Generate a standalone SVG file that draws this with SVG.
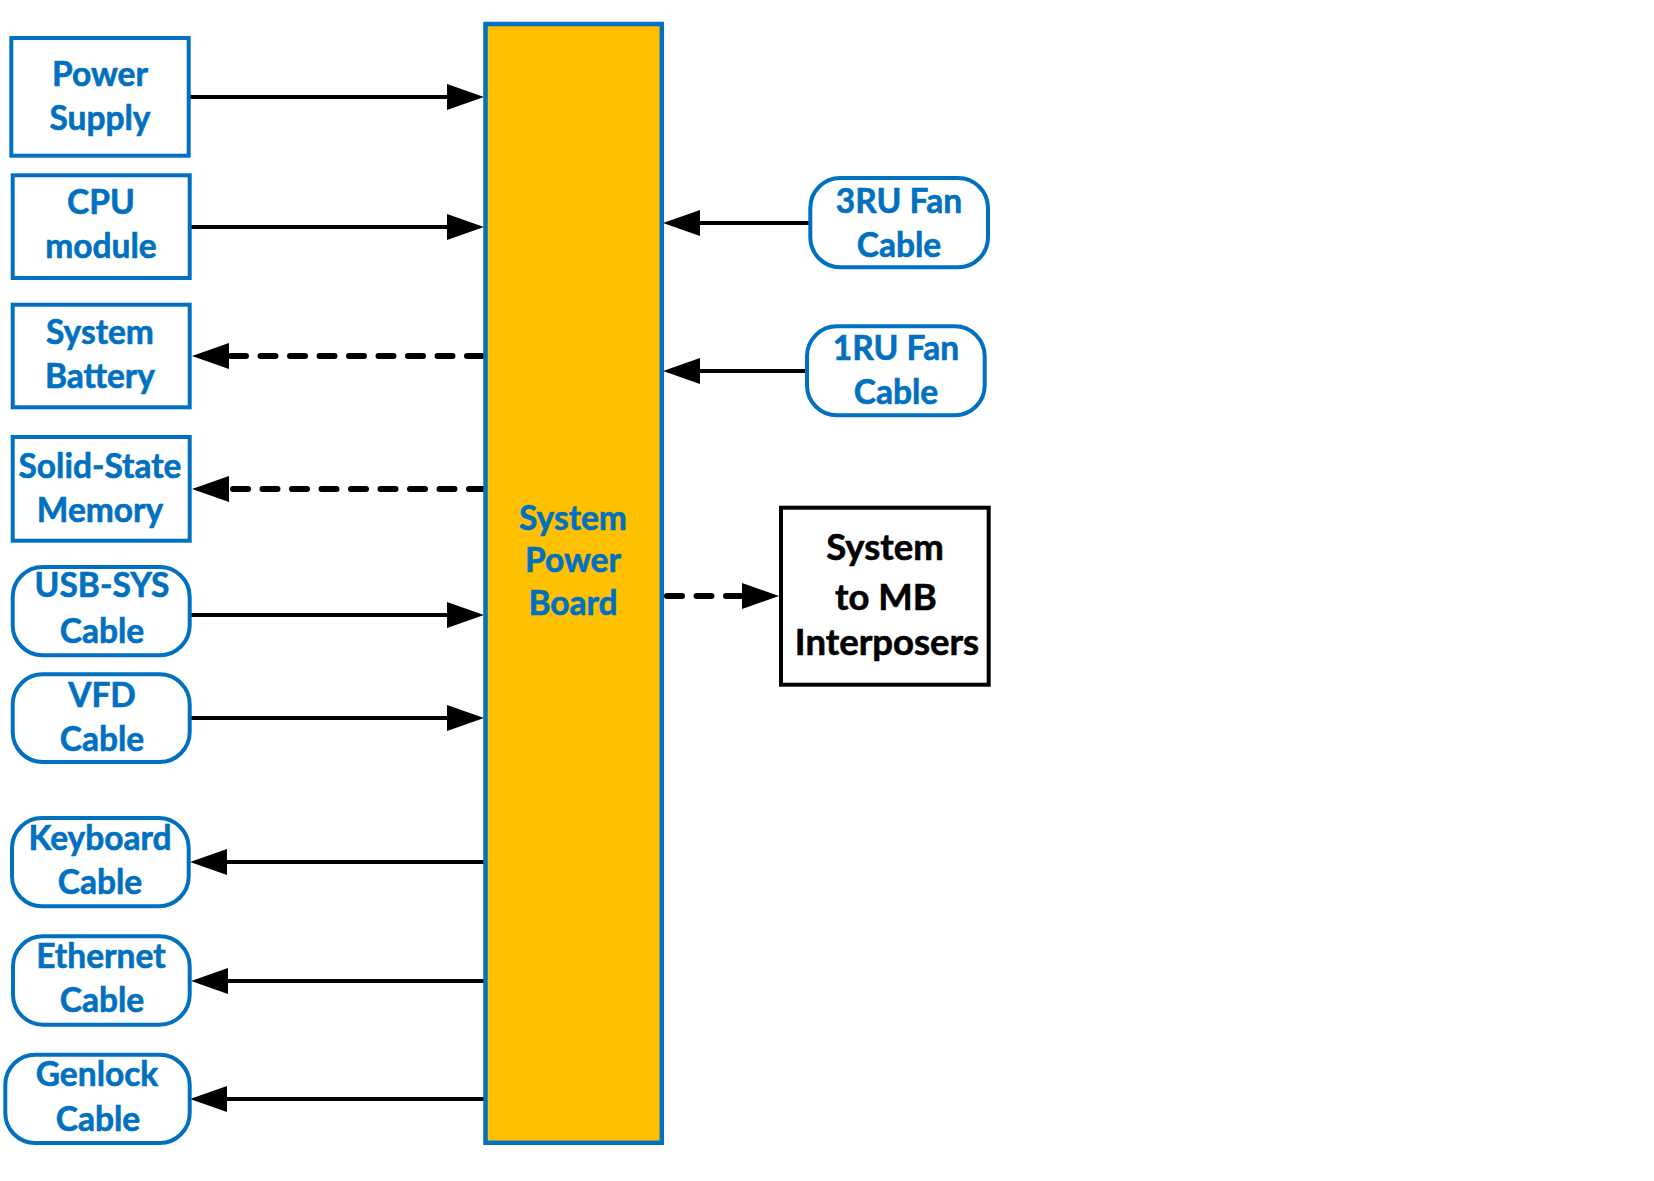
<svg xmlns="http://www.w3.org/2000/svg" width="1654" height="1181" viewBox="0 0 1654 1181">
<defs>
<style>
.box{fill:#fff;stroke:#0070C0;stroke-width:4}
.board{fill:#FFC000;stroke:#0070C0;stroke-width:4.5}
.mb{fill:#fff;stroke:#000;stroke-width:4}
.t{font-family:Lato,"Open Sans","DejaVu Sans",sans-serif;font-weight:bold;font-size:33.5px;fill:#0070C0;stroke:#0070C0;stroke-width:0.6;text-anchor:middle}
.tk{fill:#000;stroke:#000;font-size:36.5px}
.ln{fill:none;stroke:#000;stroke-width:4}
.dash{fill:none;stroke:#000;stroke-width:6;stroke-dasharray:15 14.5;stroke-linecap:round}
</style>
<marker id="ah" markerUnits="userSpaceOnUse" markerWidth="38" markerHeight="26" refX="0" refY="13" orient="auto" overflow="visible">
<path d="M0,0 L37,13 L0,26 Z" fill="#000"/>
</marker>
</defs>
<rect width="1654" height="1181" fill="#fff"/>
<g id="connectors">
<path class="ln" d="M190,97 H447" marker-end="url(#ah)"/>
<path class="ln" d="M191,227 H447" marker-end="url(#ah)"/>
<path class="dash" d="M482,356 H229" marker-end="url(#ah)"/>
<path class="dash" d="M484,489 H229" marker-end="url(#ah)"/>
<path class="ln" d="M188,615 H447" marker-end="url(#ah)"/>
<path class="ln" d="M187,718 H447" marker-end="url(#ah)"/>
<path class="ln" d="M486,862 H227" marker-end="url(#ah)"/>
<path class="ln" d="M487,981 H228" marker-end="url(#ah)"/>
<path class="ln" d="M487,1099 H227" marker-end="url(#ah)"/>
<path class="ln" d="M812,223 H700" marker-end="url(#ah)"/>
<path class="ln" d="M808,371 H700" marker-end="url(#ah)"/>
<path class="dash" d="M667,596 H742" marker-end="url(#ah)"/>
</g>
<g id="power-supply">
<rect class="box" x="11.3" y="38" width="177.4" height="117.7"/>
<text class="t" x="100" y="86">Power</text>
<text class="t" x="100" y="130">Supply</text>
</g>
<g id="cpu-module">
<rect class="box" x="12.7" y="175.3" width="177" height="102.7"/>
<text class="t" x="101" y="214">CPU</text>
<text class="t" x="101" y="258">module</text>
</g>
<g id="system-battery">
<rect class="box" x="12.7" y="304.7" width="177" height="102.6"/>
<text class="t" x="100" y="344">System</text>
<text class="t" x="100" y="388">Battery</text>
</g>
<g id="solid-state-memory">
<rect class="box" x="12.7" y="437" width="177" height="103.7"/>
<text class="t" x="100" y="478">Solid-State</text>
<text class="t" x="100" y="522">Memory</text>
</g>
<g id="usb-sys-cable">
<rect class="box" x="12.7" y="567" width="177" height="88.3" rx="30"/>
<text class="t" x="102" y="597">USB-SYS</text>
<text class="t" x="102" y="643">Cable</text>
</g>
<g id="vfd-cable">
<rect class="box" x="12.7" y="674.3" width="177" height="87.7" rx="30"/>
<text class="t" x="102" y="707">VFD</text>
<text class="t" x="102" y="751">Cable</text>
</g>
<g id="keyboard-cable">
<rect class="box" x="12" y="818" width="176.7" height="88.3" rx="30"/>
<text class="t" x="100" y="850">Keyboard</text>
<text class="t" x="100" y="894">Cable</text>
</g>
<g id="ethernet-cable">
<rect class="box" x="13" y="936.3" width="176.7" height="88.4" rx="30"/>
<text class="t" x="101" y="968">Ethernet</text>
<text class="t" x="102" y="1012">Cable</text>
</g>
<g id="genlock-cable">
<rect class="box" x="5.3" y="1054.7" width="184.4" height="88.3" rx="30"/>
<text class="t" x="97" y="1086">Genlock</text>
<text class="t" x="98" y="1131">Cable</text>
</g>
<g id="system-power-board">
<rect class="board" x="485.5" y="24" width="176.3" height="1118.8"/>
<text class="t" x="573" y="530">System</text>
<text class="t" x="573" y="572">Power</text>
<text class="t" x="573" y="615">Board</text>
</g>
<g id="fan-3ru-cable">
<rect class="box" x="810.3" y="178" width="177.7" height="89.3" rx="30"/>
<text class="t" x="899" y="213">3RU Fan</text>
<text class="t" x="899" y="257">Cable</text>
</g>
<g id="fan-1ru-cable">
<rect class="box" x="807" y="326.3" width="177.7" height="89" rx="30"/>
<text class="t" x="896" y="360">1RU Fan</text>
<text class="t" x="896" y="404">Cable</text>
</g>
<g id="system-to-mb-interposers">
<rect class="mb" x="781" y="507.7" width="207.7" height="177"/>
<text class="t tk" x="885" y="560">System</text>
<text class="t tk" x="886" y="610">to MB</text>
<text class="t tk" x="887" y="655">Interposers</text>
</g>
</svg>
